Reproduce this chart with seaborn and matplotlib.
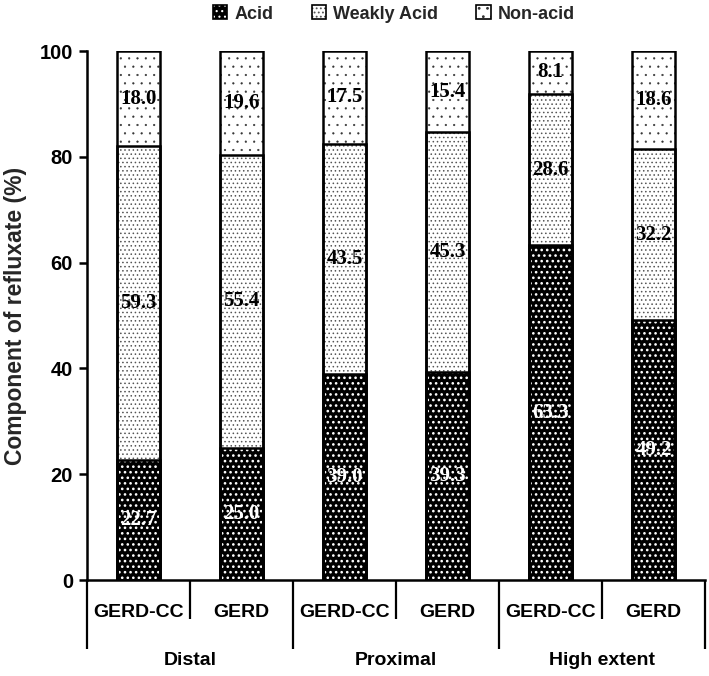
import matplotlib
matplotlib.use("Agg")
import matplotlib.pyplot as plt
import matplotlib.transforms as mtransforms
from matplotlib.patches import Patch
import seaborn as sns
import pandas as pd

# ---- data ----
groups = ["Distal", "Proximal", "High extent"]
subgroups = ["GERD-CC", "GERD"]
acid = [22.7, 25.0, 39.0, 39.3, 63.3, 49.2]
weakly_acid = [59.3, 55.4, 43.5, 45.3, 28.6, 32.2]
non_acid = [18.0, 19.6, 17.5, 15.4, 8.1, 18.6]
series_names = ["Acid", "Weakly Acid", "Non-acid"]
yticks = [0, 20, 40, 60, 80, 100]

sns.set_theme(style="white")
plt.rcParams["font.family"] = ["Liberation Sans", "DejaVu Sans"]

keys = [f"{g}|{s}" for g in groups for s in subgroups]
df = pd.DataFrame({"key": keys, "acid": acid, "weakly": weakly_acid, "non": non_acid})
df["cum1"] = df["acid"]
df["cum2"] = df["acid"] + df["weakly"]
df["cum3"] = df["cum2"] + df["non"]

fig = plt.figure(figsize=(7.09, 6.76), dpi=100)
ax = fig.add_axes([0.1227, 0.142, 0.872, 0.7825])

BW = 0.42
styles = {
    "cum3": dict(face="white", hatchc="#333333", hatch="..", hlw=0.35),
    "cum2": dict(face="white", hatchc="#555555", hatch="....", hlw=0.6),
    "cum1": dict(face="black", hatchc="white", hatch="...", hlw=1.1),
}


def layer(col, face, hatchc, hatch, hlw):
    plt.rcParams["hatch.linewidth"] = hlw
    n0 = len(ax.patches)
    sns.barplot(data=df, x="key", y=col, order=keys, color=face, width=BW,
                errorbar=None, saturation=1, ax=ax)
    for p in ax.patches[n0:]:
        p.set_facecolor(face)
        p.set_edgecolor(hatchc)
        p.set_hatch(hatch)
        p.set_linewidth(0)
        if hasattr(p, "set_hatch_linewidth"):
            p.set_hatch_linewidth(hlw)


for col in ["cum3", "cum2", "cum1"]:
    layer(col, **styles[col])

# outlines
for col in ["cum3", "cum2", "cum1"]:
    n0 = len(ax.patches)
    sns.barplot(data=df, x="key", y=col, order=keys, color="white", width=BW,
                errorbar=None, saturation=1, ax=ax)
    for p in ax.patches[n0:]:
        p.set_facecolor("none")
        p.set_edgecolor("black")
        p.set_linewidth(1.8)
        p.set_hatch(None)

# value labels
lab_kw = dict(ha="center", va="center", family="Liberation Serif",
              fontweight="bold", fontsize=15, zorder=5)
for i in range(len(keys)):
    a, w, n = acid[i], weakly_acid[i], non_acid[i]
    ax.text(i, a / 2, f"{a:.1f}", color="white", **lab_kw)
    ax.text(i, a + w / 2, f"{w:.1f}", color="black", **lab_kw)
    ax.text(i, a + w + n / 2, f"{n:.1f}", color="black", **lab_kw)

ax.set_ylim(0, 100)
ax.set_xlim(-0.5, len(keys) - 0.5)
ax.set_yticks(yticks)
ax.set_yticklabels([str(t) for t in yticks], fontweight="bold", fontsize=14.5)
ax.set_xticks([])
ax.set_xlabel("")
ax.set_ylabel("Component of refluxate (%)", fontweight="bold", fontsize=16.5, labelpad=9)
ax.tick_params(axis="y", direction="out", length=6, width=1.8, color="black",
               left=True, pad=4, labelcolor="black")
for s in ["top", "right"]:
    ax.spines[s].set_visible(False)
for s in ["left", "bottom"]:
    ax.spines[s].set_color("black")
    ax.spines[s].set_linewidth(1.8)

# separators and category labels below the axis
trans = mtransforms.blended_transform_factory(ax.transData, ax.transAxes)
n = len(keys)
for k in range(n + 1):
    xb = k - 0.5
    y_end = -0.130 if k % 2 == 0 else -0.074
    ax.plot([xb, xb], [0, y_end], transform=trans, color="black", lw=1.6,
            clip_on=False, solid_capstyle="butt")
for i, key in enumerate(keys):
    ax.text(i, -0.062, key.split("|")[1], transform=trans, ha="center", va="center",
            fontweight="bold", fontsize=14, color="black")
for gi, g in enumerate(groups):
    ax.text(gi * 2 + 0.5, -0.153, g, transform=trans, ha="center", va="center",
            fontweight="bold", fontsize=14, color="black")

# legend
plt.rcParams["hatch.linewidth"] = 0.8
handles = [
    (Patch(facecolor="black", edgecolor="white", hatch="...", lw=0),
     Patch(facecolor="none", edgecolor="black", lw=1.2)),
    (Patch(facecolor="white", edgecolor="#555555", hatch="....", lw=0),
     Patch(facecolor="none", edgecolor="black", lw=1.2)),
    (Patch(facecolor="white", edgecolor="#333333", hatch="..", lw=0),
     Patch(facecolor="none", edgecolor="black", lw=1.2)),
]
fig.legend(handles, series_names, loc="center", bbox_to_anchor=(394 / 709, 1 - 14 / 676),
           ncol=3, frameon=False, prop={"weight": "bold", "size": 13},
           handlelength=0.8, handleheight=0.8, handletextpad=0.4, columnspacing=2.1,
           borderaxespad=0, borderpad=0)

fig.savefig("out.png", dpi=100)
